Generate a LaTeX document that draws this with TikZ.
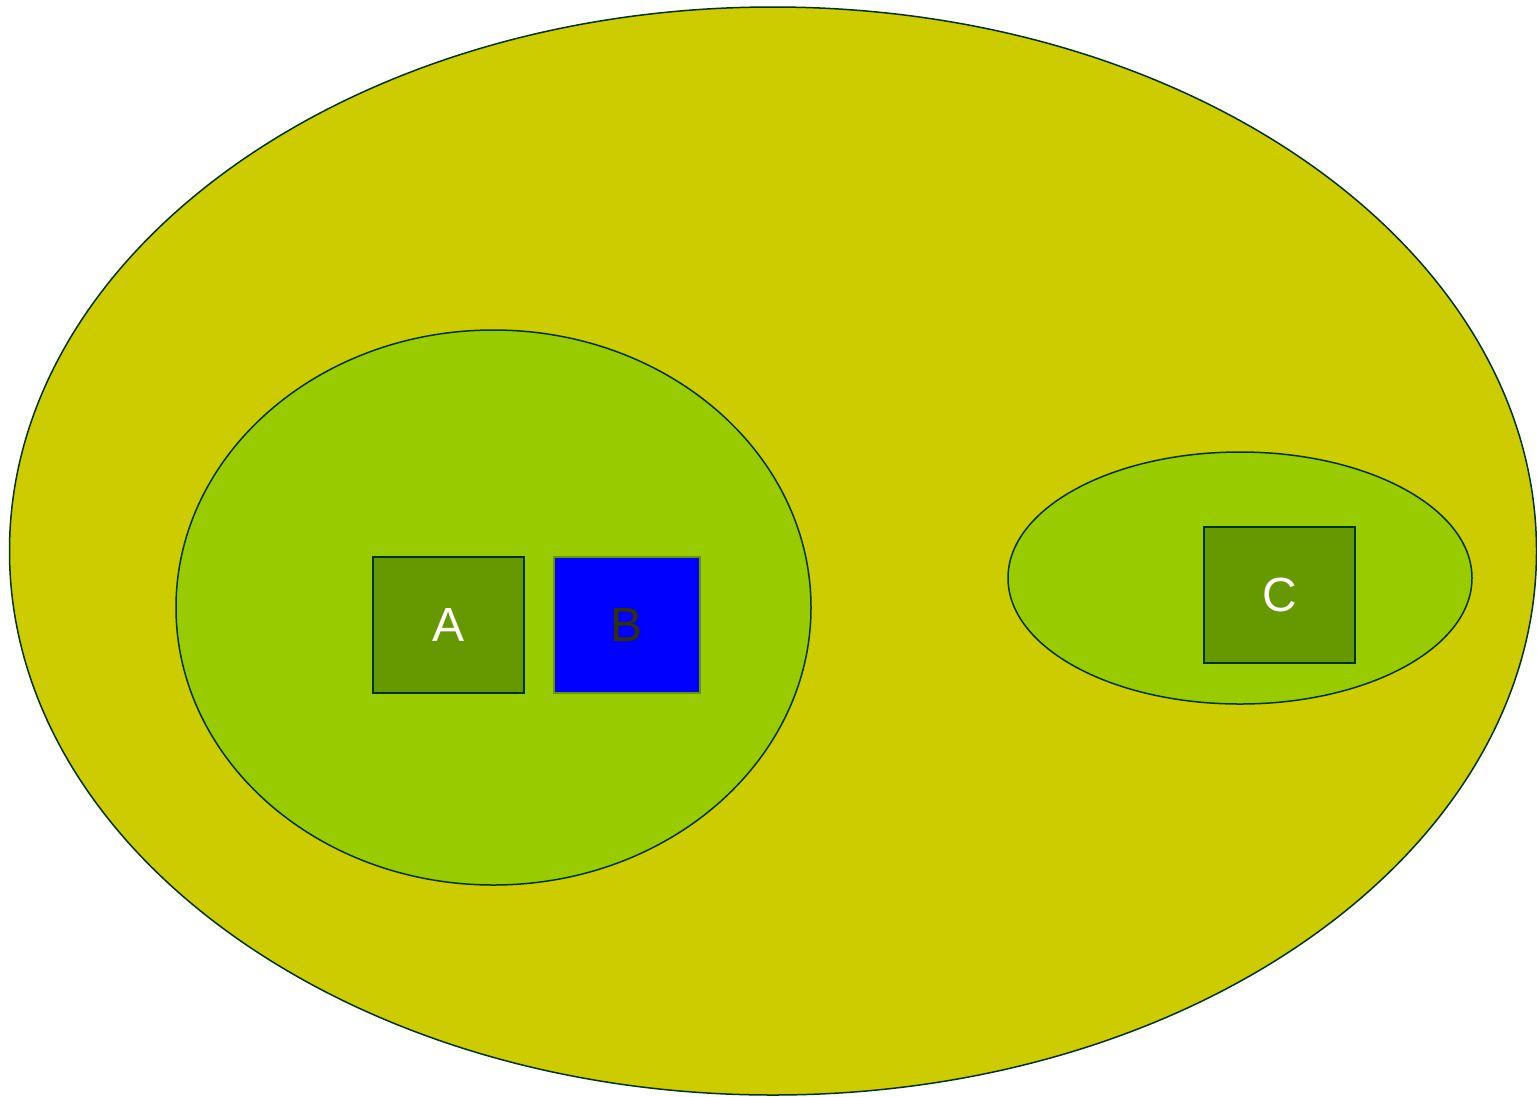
\documentclass[tikz,border=0pt]{standalone}
\usepackage{fontspec}
\setmainfont{Liberation Sans}
\usetikzlibrary{shapes.geometric}
\definecolor{outerc}{HTML}{CCCC00}
\definecolor{innerc}{HTML}{99CC00}
\definecolor{boxc}{HTML}{669900}
\definecolor{linec}{HTML}{003300}
\definecolor{btext}{HTML}{333300}
\begin{document}
\begin{tikzpicture}[x=1pt,y=-1pt,
  blob/.style={ellipse,draw=linec,line width=1.5pt,inner sep=0pt},
  gbox/.style={rectangle,draw=linec,line width=1.5pt,fill=boxc,text=white,inner sep=0pt,font=\fontsize{48}{50}\selectfont},
  bbox/.style={rectangle,draw=boxc,line width=1.5pt,fill=blue,text=btext,inner sep=0pt,font=\fontsize{48}{50}\selectfont}]
\useasboundingbox (0,0) rectangle (1537,1096);
\node[blob,fill=outerc,minimum width=1527pt,minimum height=1088pt] (outer) at (773,551) {};
\node[blob,fill=innerc,minimum width=635pt,minimum height=555pt] (left) at (493.5,607.5) {};
\node[blob,fill=innerc,minimum width=464pt,minimum height=252pt] (right) at (1240,578) {};
\node[gbox,minimum width=151pt,minimum height=136pt] (A) at (448.5,625) {A};
\node[bbox,minimum width=146pt,minimum height=136pt] (B) at (627,625) {B};
\node[gbox,minimum width=151pt,minimum height=136pt] (C) at (1279.5,595) {C};
\end{tikzpicture}
\end{document}
